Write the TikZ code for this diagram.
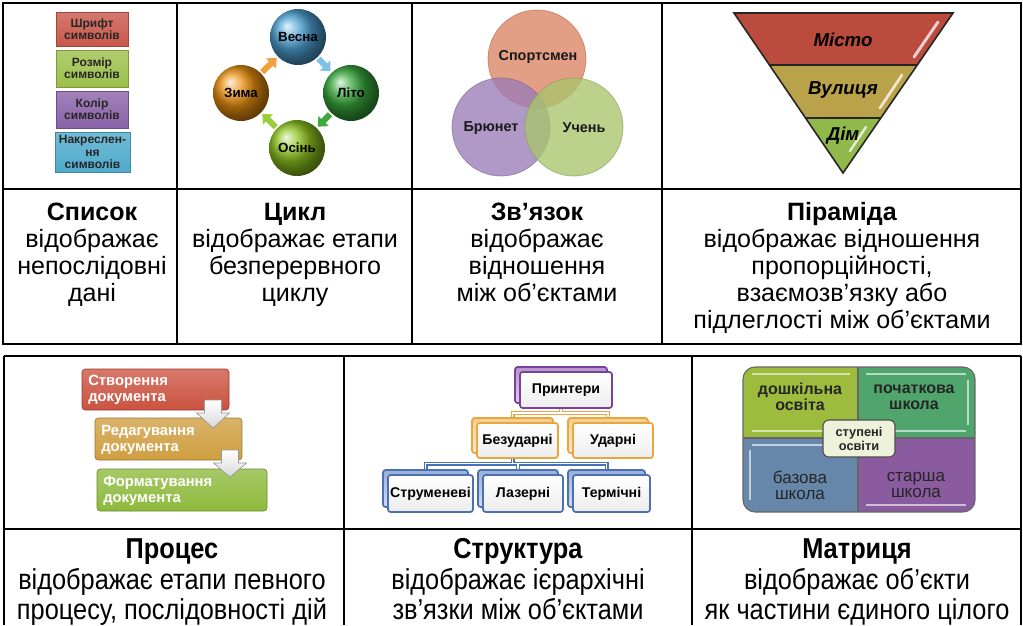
\documentclass[tikz,border=0pt]{standalone}
\usepackage{fontspec}
\setmainfont{Liberation Sans}
\newfontfamily\narrowfont[FakeStretch=0.88]{Liberation Sans}
\usetikzlibrary{arrows.meta,shadings}
\definecolor{lRed}{HTML}{C9574A}
\definecolor{lGreen}{HTML}{9DC04B}
\definecolor{lPurple}{HTML}{8A62A8}
\definecolor{lBlue}{HTML}{4FAACB}
\definecolor{cSpring}{HTML}{4CA0D2}
\definecolor{cSummer}{HTML}{36A63A}
\definecolor{cAutumn}{HTML}{8DC31F}
\definecolor{cWinter}{HTML}{E98F10}
\definecolor{aSpring}{HTML}{7DC3E6}
\definecolor{aWinter}{HTML}{F2A03C}
\definecolor{aSummer}{HTML}{3EA83E}
\definecolor{aAutumn}{HTML}{9ACD3E}
\definecolor{vSport}{HTML}{DB8563}
\definecolor{vBrun}{HTML}{9B7DB8}
\definecolor{vStud}{HTML}{A9C56C}
\definecolor{pRed}{HTML}{BA4B3D}
\definecolor{pGold}{HTML}{B9A24A}
\definecolor{pGreen}{HTML}{90B84B}
\definecolor{prRed}{HTML}{CB5240}
\definecolor{prGold}{HTML}{CF9E40}
\definecolor{prGreen}{HTML}{8EB93C}
\definecolor{sPurple}{HTML}{7B3F9F}
\definecolor{sOrange}{HTML}{EAA53C}
\definecolor{sBlue}{HTML}{4A70B6}
\definecolor{mTL}{HTML}{9DBC3D}
\definecolor{mTR}{HTML}{4FA56C}
\definecolor{mBL}{HTML}{6787AA}
\definecolor{mBR}{HTML}{8A5B9E}
\definecolor{mC}{HTML}{EEF2DA}
\tikzset{
  grid/.style={line width=1.65pt, black},
  toptext/.style={align=center, anchor=north, font=\fontsize{18.8}{20.25}\selectfont, inner sep=0},
  bottext/.style={align=center, anchor=north, font=\narrowfont\fontsize{21.6}{22.1}\selectfont, inner sep=0},
  listbox/.style={rectangle, align=center, inner sep=0, text=black!85,
    font=\bfseries\fontsize{9}{9.3}\selectfont, draw=#1!80!black, line width=0.4pt,
    top color=#1!80!white, bottom color=#1},
  sphere/.style={circle, ball color=#1, minimum size=42pt, inner sep=0,
    font=\bfseries\fontsize{10}{10}\selectfont, text=black},
  cycarrow/.style={draw=#1, line width=4.5pt, shorten <=1.2pt, shorten >=1.2pt,
    -{Triangle[length=6pt,width=10.5pt]}},
  venn/.style={circle, minimum size=73.5pt, inner sep=0, fill=#1, fill opacity=0.78,
    draw=#1!80!black, draw opacity=0.6, line width=0.6pt},
  venntext/.style={font=\bfseries\fontsize{10.8}{11}\selectfont, text=black!90, inner sep=0},
  pyrtext/.style={font=\bfseries\itshape\fontsize{14}{15}\selectfont, inner sep=0},
  procbox/.style={rectangle, rounded corners=2.5pt, draw=#1!75!black, line width=0.5pt,
    top color=#1!78!white, bottom color=#1, inner sep=0},
  proctext/.style={align=left, font=\bfseries\fontsize{11.1}{12}\selectfont, text=white, inner sep=0},
  procarrow/.style={draw=black!40, line width=0.5pt, top color=white, bottom color=black!15},
  sfront/.style={rectangle, rounded corners=2pt, draw=#1, line width=1.3pt,
    top color=white, bottom color=black!7, inner sep=0,
    font=\bfseries\fontsize{10.6}{11}\selectfont},
  sback/.style={rectangle, rounded corners=2pt, draw=#1, line width=1.3pt,
    top color=#1!55!white, bottom color=#1!25!white, inner sep=0},
  souter/.style={draw=#1, line width=3pt},
  sinner/.style={draw=white, line width=1.2pt},
  mtext/.style={align=center, font=\fontsize{12.8}{12}\selectfont, text=black!85, inner sep=0},
}
\begin{document}
\begin{tikzpicture}[x=0.75pt,y=-0.75pt]
\useasboundingbox (0,0) rectangle (1023,625);
\fill[white] (0,0) rectangle (1023,625);

% ---------- top table ----------
\draw[grid] (3,3) rectangle (1021,344);
\draw[grid] (3,189) -- (1021,189);
\draw[grid] (177,3) -- (177,344);
\draw[grid] (412,3) -- (412,344);
\draw[grid] (662,3) -- (662,344);

% ---------- bottom table ----------
\draw[grid] (4,356) -- (1021,356);
\draw[grid] (4,529) -- (1021,529);
\draw[grid] (4,356) -- (4,625);
\draw[grid] (344,356) -- (344,625);
\draw[grid] (692,356) -- (692,625);
\draw[grid] (1021,356) -- (1021,625);

% ---------- list ----------
\node[listbox=lRed, minimum width=54pt, minimum height=25.5pt] (l1) at (92,29) {Шрифт\\символів};
\node[listbox=lGreen, minimum width=54pt, minimum height=27.7pt] (l2) at (92,68.5) {Розмір\\символів};
\node[listbox=lPurple, minimum width=54pt, minimum height=27.7pt] (l3) at (92,109.5) {Колір\\символів};
\node[listbox=lBlue, minimum width=56pt, minimum height=30pt] (l4) at (92.5,152) {Накреслен-\\ня\\символів};

% ---------- cycle ----------
\node[sphere=cSpring] (vesna) at (298,37) {Весна};
\node[sphere=cSummer] (lito) at (351,93) {Літо};
\node[sphere=cAutumn] (osin) at (297,148) {Осінь};
\node[sphere=cWinter] (zyma) at (241,93) {Зима};
\draw[cycarrow=aWinter] (zyma) -- (vesna);
\draw[cycarrow=aSpring] (vesna) -- (lito);
\draw[cycarrow=aSummer] (lito) -- (osin);
\draw[cycarrow=aAutumn] (osin) -- (zyma);

% ---------- venn ----------
\node[venn=vSport] (sport) at (537,59) {};
\node[venn=vBrun] (brun) at (501,127) {};
\node[venn=vStud] (stud) at (574,127) {};
\node[venntext] (sportT) at (538,57) {Спортсмен};
\node[venntext] (brunT) at (491,128) {Брюнет};
\node[venntext] (studT) at (584,128) {Учень};

% ---------- pyramid ----------
\fill[pRed] (734,13) -- (953,13) -- (917.25,65) -- (769.4,65) -- cycle;
\fill[pGold] (769.4,65) -- (917.25,65) -- (880.8,118) -- (805.5,118) -- cycle;
\fill[pGreen] (805.5,118) -- (880.8,118) -- (843,173) -- cycle;
\draw[white, line width=2.2pt, line cap=round, opacity=0.75] (938,22) -- (914,57);
\draw[white, line width=2pt, line cap=round, opacity=0.75] (902,75) -- (880,108);
\draw[white, line width=1.8pt, line cap=round, opacity=0.75] (866,127) -- (850,151);
\draw[black!85, line width=1.2pt, line join=miter] (734,13) -- (953,13) -- (843,173) -- cycle;
\draw[black!85, line width=1.2pt] (769.4,65) -- (917.25,65);
\draw[black!85, line width=1.2pt] (805.5,118) -- (880.8,118);
\node[pyrtext] (misto) at (843,40) {Місто};
\node[pyrtext] (vul) at (843,90) {Вулиця};
\node[pyrtext] (dim) at (843,136) {Дім};

% ---------- top texts ----------
\node[toptext] (t1) at (92,201) {\strut\textbf{Список}\\відображає\\непослідовні\\дані};
\node[toptext] (t2) at (295,201) {\strut\textbf{Цикл}\\відображає етапи\\безперервного\\циклу};
\node[toptext] (t3) at (537,201) {\strut\textbf{Зв’язок}\\відображає\\відношення\\між об’єктами};
\node[toptext] (t4) at (842,201) {\strut\textbf{Піраміда}\\відображає відношення\\пропорційності,\\взаємозв’язку або\\підлеглості між об’єктами};

% ---------- process ----------
\node[procbox=prRed, minimum width=110.25pt, minimum height=30.75pt] (p1) at (155.5,389.5) {};
\node[proctext, anchor=west] (p1t) at (88,390) {Створення\\документа};
\node[procbox=prGold, minimum width=110.25pt, minimum height=31.5pt] (p2) at (168.5,439) {};
\node[proctext, anchor=west] (p2t) at (101,440) {Редагування\\документа};
\node[procbox=prGreen, minimum width=127.5pt, minimum height=31.5pt] (p3) at (182,490) {};
\node[proctext, anchor=west] (p3t) at (103,491) {Форматування\\документа};
\path[procarrow] (204.5,400) -- (221.5,400) -- (221.5,413) -- (229.5,413) -- (213,428)
  -- (196.5,413) -- (204.5,413) -- cycle;
\path[procarrow] (221.5,450) -- (238.5,450) -- (238.5,463) -- (246.5,463) -- (230,477)
  -- (213.5,463) -- (221.5,463) -- cycle;

% ---------- structure ----------
\coordinate (prB) at (561,385);
\coordinate (bezB) at (512.5,435.5);
\coordinate (udB) at (608,435.5);
\coordinate (strB) at (425.5,488.5);
\coordinate (lazB) at (518,488.5);
\coordinate (terB) at (606.5,488.5);
\draw[souter=sOrange] (prB) -- ++(0,28) -| (bezB) (prB) ++(0,28) -| (udB);
\draw[sinner] (prB) -- ++(0,28) -| (bezB) (prB) ++(0,28) -| (udB);
\draw[souter=sBlue] (bezB) -- ++(0,28) -| (strB) (bezB) ++(0,28) -| (terB) (bezB) ++(0,28) -| (lazB);
\draw[sinner] (bezB) -- ++(0,28) -| (strB) (bezB) ++(0,28) -| (terB) (bezB) ++(0,28) -| (lazB);
\node[sback=sPurple, minimum width=69pt, minimum height=27pt] (prb) at (prB) {};
\node[sfront=sPurple, minimum width=69pt, minimum height=27pt] (pr) at (566,390) {Принтери};
\node[sback=sOrange, minimum width=60.75pt, minimum height=26.25pt] (bezb) at (bezB) {};
\node[sfront=sOrange, minimum width=60.75pt, minimum height=26.25pt] (bez) at (517.5,440.5) {Безударні};
\node[sback=sOrange, minimum width=60pt, minimum height=26.25pt] (udb) at (udB) {};
\node[sfront=sOrange, minimum width=60pt, minimum height=26.25pt] (ud) at (613,440.5) {Ударні};
\node[sback=sBlue, minimum width=63.75pt, minimum height=27.75pt] (strb) at (strB) {};
\node[sfront=sBlue, minimum width=63.75pt, minimum height=27.75pt] (str) at (430.5,493.5) {Струменеві};
\node[sback=sBlue, minimum width=60pt, minimum height=27.75pt] (lazb) at (lazB) {};
\node[sfront=sBlue, minimum width=60pt, minimum height=27.75pt] (laz) at (523,493.5) {Лазерні};
\node[sback=sBlue, minimum width=57.75pt, minimum height=27.75pt] (terb) at (terB) {};
\node[sfront=sBlue, minimum width=57.75pt, minimum height=27.75pt] (ter) at (611.5,493.5) {Термічні};

% ---------- matrix ----------
\begin{scope}
\clip[rounded corners=9pt] (743,367) rectangle (975,512);
\fill[mTL] (743,367) rectangle (858,438);
\fill[mTR] (858,367) rectangle (975,438);
\fill[mBL] (743,438) rectangle (858,512);
\fill[mBR] (858,438) rectangle (975,512);
\draw[white, opacity=0.6, line width=1.2pt] (752,374) -- (850,374) (866,374) -- (966,374)
  (752,431) -- (850,431) (866,431) -- (966,431) (752,445) -- (850,445) (866,505) -- (966,505)
  (750,450) -- (750,500) (968,380) -- (968,425);
\end{scope}
\draw[black!60, line width=0.8pt] (858,367) -- (858,512) (743,438) -- (975,438);
\draw[black!60, line width=0.8pt, rounded corners=9pt] (743,367) rectangle (975,512);
\node[mtext, font=\bfseries\fontsize{12}{12}\selectfont] (m1) at (800,397) {дошкільна\\освіта};
\node[mtext, font=\bfseries\fontsize{12}{12}\selectfont] (m2) at (914,397) {початкова\\школа};
\node[mtext] (m3) at (800,485) {базова\\школа};
\node[mtext] (m4) at (916,485) {старша\\школа};
\node[rectangle, rounded corners=4pt, draw=black!70, line width=0.8pt, fill=mC,
  minimum width=54pt, minimum height=27.75pt, inner sep=0, align=center,
  font=\bfseries\fontsize{9.6}{10.5}\selectfont, text=black!85] (mc) at (859,438.5) {ступені\\освіти};

% ---------- bottom texts ----------
\node[bottext] (t5) at (172,537.4) {\strut\textbf{Процес}\\відображає етапи певного\\процесу, послідовності дій};
\node[bottext] (t6) at (518,537.4) {\strut\textbf{Структура}\\відображає ієрархічні\\зв’язки між об’єктами};
\node[bottext] (t7) at (857,537.4) {\strut\textbf{Матриця}\\відображає об’єкти\\як частини єдиного цілого};
\end{tikzpicture}
\end{document}
